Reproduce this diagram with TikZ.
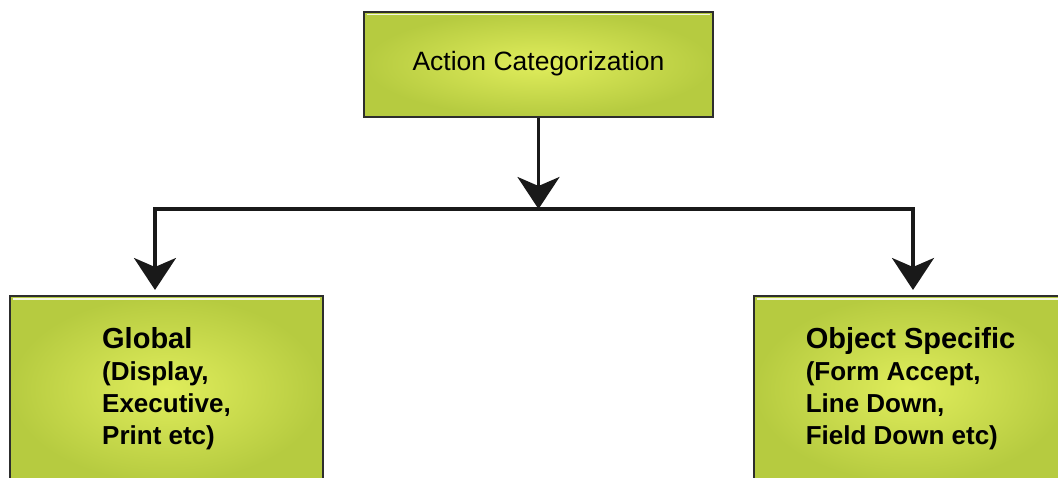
\documentclass[tikz,border=0pt]{standalone}
\usepackage{fontspec}
\setmainfont{Liberation Sans}
\usetikzlibrary{arrows.meta}
\definecolor{boxin}{RGB}{224,237,92}
\definecolor{boxout}{RGB}{182,203,64}
\definecolor{boxline}{RGB}{45,45,45}
\begin{document}
\begin{tikzpicture}[x=1pt,y=1pt,
  catbox/.style={draw=boxline, line width=2pt, rectangle, inner sep=0pt,
    inner color=boxin, outer color=boxout,
    path picture={\draw[white, line width=1.6pt, opacity=0.85]
      ([xshift=3pt,yshift=-3pt]path picture bounding box.north west) --
      ([xshift=-3pt,yshift=-3pt]path picture bounding box.north east);}},
  subtext/.style={align=left, font=\bfseries\fontsize{26}{32}\selectfont},
  wire/.style={line width=3.5pt, black!90},
  arrowline/.style={wire, -{Stealth[length=32pt, width=42pt, inset=9pt]}}
]
\useasboundingbox (0,0) rectangle (1058,-477);

% top category box
\node[catbox, minimum width=349pt, minimum height=105pt,
      font=\fontsize{26.5}{30}\selectfont] (top) at (538.5,-64) {Action Categorization};

% the two child boxes (running past the lower and right edges)
\node[catbox, minimum width=313pt, minimum height=186pt, subtext,
      anchor=north] (glob) at (166.5,-295)
  {{\fontsize{29}{32}\selectfont Global}\\(Display,\\Executive,\\Print etc)};
\node[catbox, minimum width=313pt, minimum height=186pt, subtext,
      anchor=north] (obj) at (910.5,-295)
  {{\fontsize{29}{32}\selectfont Object Specific}\\(Form Accept,\\Line Down,\\Field Down etc)};

% branching connectors
\coordinate (bar) at (538.5,-209);
\coordinate (lc) at (155,-209);
\coordinate (rc) at (913,-209);
\draw[arrowline] (top.south -| bar) -- (bar);
\draw[wire, line cap=rect] (lc) -- (rc);
\draw[arrowline, shorten >=5pt] (lc) -- (lc |- glob.north);
\draw[arrowline, shorten >=5pt] (rc) -- (rc |- obj.north);
\end{tikzpicture}
\end{document}
